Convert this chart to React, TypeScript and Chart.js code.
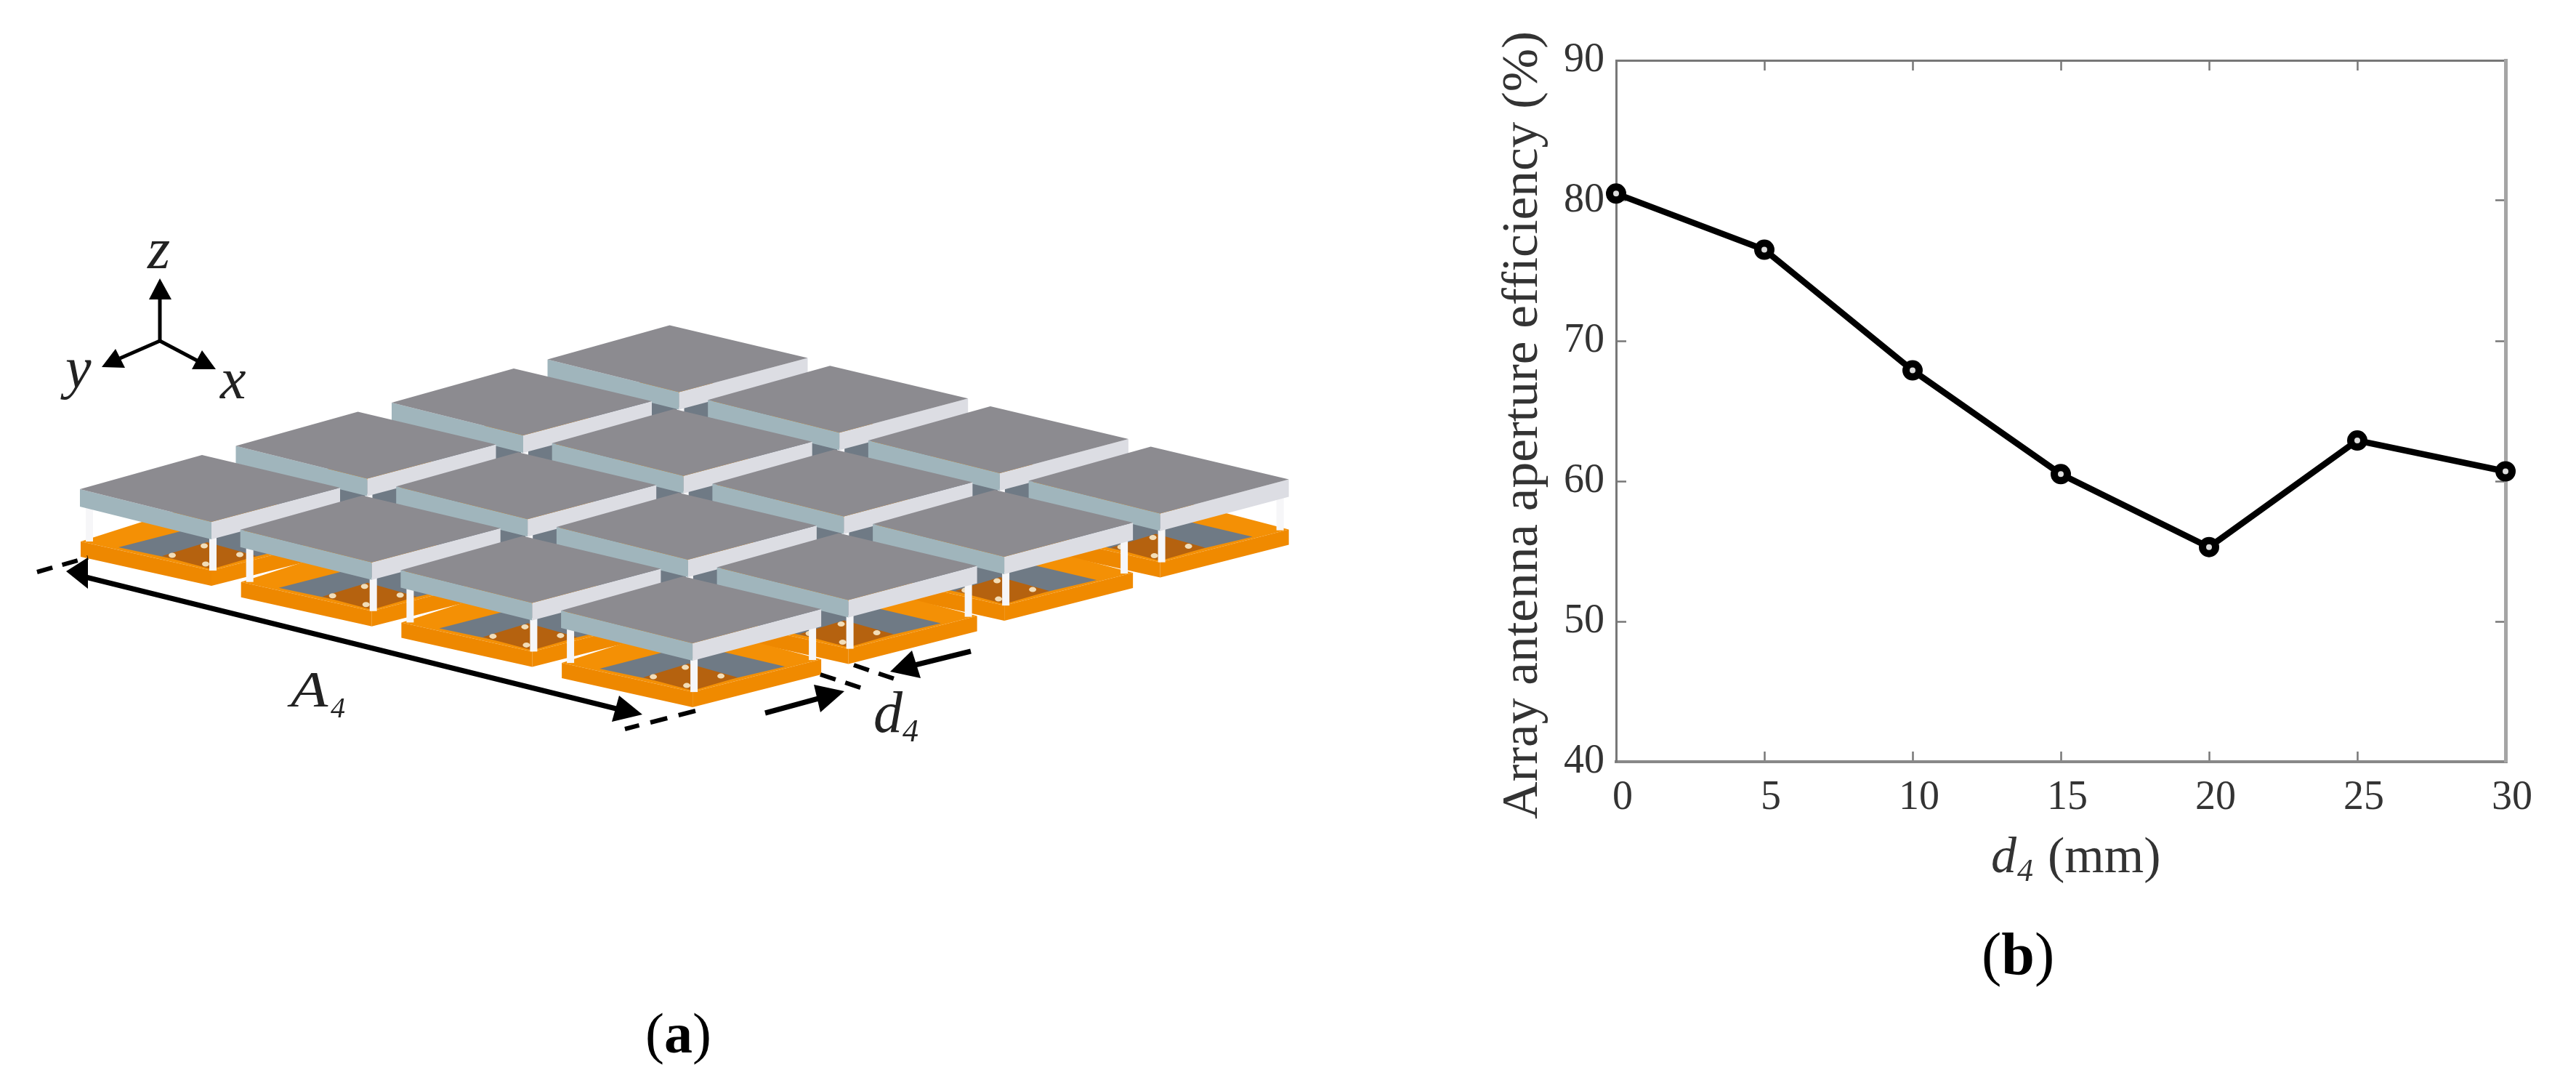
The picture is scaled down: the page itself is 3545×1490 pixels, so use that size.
import React, { useEffect, useRef } from "react";
import { Chart, registerables } from "chart.js";

Chart.register(...registerables);

const gapValues = [0, 5, 10, 15, 20, 25, 30];
const efficiencyValues = [80.5, 76.5, 67.9, 60.5, 55.3, 62.9, 60.7];
const yAxisTitle = "Array antenna aperture efficiency (%)";
const xAxisName = "d";
const xAxisSub = "4";
const xAxisUnit = "(mm)";
const panelLabels = ["a", "b"];

const SERIF = '"Liberation Serif", "Times New Roman", serif';
type Pt = [number, number];

function poly(ctx: CanvasRenderingContext2D, pts: Pt[], fill: string) {
  ctx.fillStyle = fill;
  ctx.beginPath();
  pts.forEach((p, k) => (k ? ctx.lineTo(p[0], p[1]) : ctx.moveTo(p[0], p[1])));
  ctx.closePath();
  ctx.fill();
}

function stroke(ctx: CanvasRenderingContext2D, a: Pt, b: Pt, w: number, dash: number[] = []) {
  ctx.save();
  ctx.strokeStyle = "#000";
  ctx.lineWidth = w;
  ctx.setLineDash(dash);
  ctx.beginPath();
  ctx.moveTo(a[0], a[1]);
  ctx.lineTo(b[0], b[1]);
  ctx.stroke();
  ctx.restore();
}

function drawUnit(ctx: CanvasRenderingContext2D, ox: number, oy: number) {
  const r = (pts: Pt[]): Pt[] => pts.map((p) => [ox + p[0], oy + p[1]] as Pt);
  // substrate
  const sT = 21;
  poly(ctx, r([[1, 72], [170, 18], [358, 67], [181, 112]]), "#F49005");
  poly(ctx, r([[1, 72], [181, 112], [181, 112 + sT], [1, 72 + sT]]), "#EE8800");
  poly(ctx, r([[181, 112], [358, 67], [358, 67 + sT], [181, 112 + sT]]), "#F08A00");
  // patch
  poly(ctx, r([[53, 80], [181, 47], [308, 77], [181, 107]]), "#6F7A85");
  poly(ctx, r([[113, 92], [175, 73], [243, 92], [181, 110]]), "#B5620F");
  ctx.fillStyle = "#F2DDB8";
  ([[127, 91], [220, 90], [171, 78], [173, 103]] as Pt[]).forEach((d) => {
    ctx.beginPath();
    ctx.ellipse(ox + d[0], oy + d[1], 5, 3.5, 0, 0, Math.PI * 2);
    ctx.fill();
  });
  // posts
  ctx.fillStyle = "#F6F6F8";
  ctx.fillRect(ox + 8, oy + 23, 10, 49);
  ctx.fillRect(ox + 178, oy + 66, 10, 46);
  ctx.fillRect(ox + 341, oy + 23, 10, 45);
  // tile
  const t = 24;
  poly(ctx, r([[0, 0], [181, 45], [181, 45 + t], [0, t]]), "#A0B5BC");
  poly(ctx, r([[181, 45], [358, -2], [358, -2 + t], [181, 45 + t]]), "#DCDDE3");
  poly(ctx, r([[0, 0], [168, -47], [358, -2], [181, 45]]), "#8C8B90");
}

const illustration = {
  id: "illustration",
  afterDraw(chart: any) {
    const ctx: CanvasRenderingContext2D = chart.ctx;
    ctx.save();
    for (let j = 3; j >= 0; j--) {
      for (let i = 0; i < 4; i++) {
        drawUnit(ctx, 110 + i * 220.7 + j * 214.5, 673 + i * 55.7 - j * 59.5);
      }
    }
    // coordinate triad
    stroke(ctx, [220, 469], [220, 405], 5);
    stroke(ctx, [220, 469], [165, 493], 5);
    stroke(ctx, [220, 469], [273, 497], 5);
    poly(ctx, [[220, 383], [205, 412], [236, 412]], "#000");
    poly(ctx, [[140, 505], [172, 506], [159, 480]], "#000");
    poly(ctx, [[264, 508], [297, 508], [278, 482]], "#000");
    // dimension arrows
    stroke(ctx, [110, 792], [860, 978], 7);
    poly(ctx, [[91, 786], [121, 767], [121, 810]], "#000");
    poly(ctx, [[884, 983], [852, 957], [842, 993]], "#000");
    stroke(ctx, [51, 787], [121, 767], 6, [22, 14]);
    stroke(ctx, [957, 978], [860, 1003], 6, [24, 16]);
    stroke(ctx, [1053, 981], [1130, 960], 7);
    poly(ctx, [[1162, 951], [1120, 942], [1129, 980]], "#000");
    stroke(ctx, [1336, 896], [1255, 916], 7);
    poly(ctx, [[1225, 924], [1255, 895], [1267, 933]], "#000");
    stroke(ctx, [1129, 928], [1190, 948], 6, [22, 14]);
    stroke(ctx, [1175, 915], [1234, 935], 6, [22, 14]);

    // illustration labels
    ctx.fillStyle = "#222";
    ctx.textBaseline = "alphabetic";
    ctx.textAlign = "left";
    ctx.font = `italic 80px ${SERIF}`;
    ctx.fillText("z", 203, 369);
    ctx.fillText("y", 90, 533);
    ctx.fillText("x", 303, 548);
    ctx.save();
    ctx.translate(400, 972);
    ctx.scale(1.2, 1);
    ctx.font = `italic 70px ${SERIF}`;
    ctx.fillText("A", 0, 0);
    ctx.restore();
    ctx.font = `italic 40px ${SERIF}`;
    ctx.fillText("4", 455, 987);
    ctx.font = `italic 80px ${SERIF}`;
    ctx.fillText("d", 1202, 1007);
    ctx.font = `italic 44px ${SERIF}`;
    ctx.fillText("4", 1242, 1020);

    // panel captions
    ctx.fillStyle = "#000";
    const caption = (x: number, y: number, size: number, letter: string) => {
      ctx.font = `${size}px ${SERIF}`;
      ctx.fillText("(", x, y);
      let cx = x + ctx.measureText("(").width;
      ctx.font = `bold ${size}px ${SERIF}`;
      ctx.fillText(letter, cx, y);
      cx += ctx.measureText(letter).width;
      ctx.font = `${size}px ${SERIF}`;
      ctx.fillText(")", cx, y);
    };
    caption(888, 1448, 78, panelLabels[0]);
    caption(2727, 1340, 82, panelLabels[1]);

    // axis titles
    ctx.fillStyle = "#333";
    ctx.font = `70px ${SERIF}`;
    ctx.fillText(xAxisUnit, 2818, 1200);
    ctx.font = `italic 70px ${SERIF}`;
    ctx.fillText(xAxisName, 2740, 1200);
    ctx.font = `italic 44px ${SERIF}`;
    ctx.fillText(xAxisSub, 2776, 1212);

    ctx.save();
    ctx.translate(2115, 1127);
    ctx.rotate(-Math.PI / 2);
    ctx.font = `70px ${SERIF}`;
    ctx.scale(1084 / ctx.measureText(yAxisTitle).width, 1);
    ctx.fillText(yAxisTitle, 0, 0);
    ctx.restore();
    ctx.restore();
  },
};

export default function App() {
  const ref = useRef<HTMLCanvasElement>(null);
  useEffect(() => {
    document.body.style.margin = "0";
    const tickGrid = {
      drawOnChartArea: false,
      drawTicks: true,
      tickLength: -14,
      tickColor: "#777",
      tickWidth: 2.5,
    };
    const tickFont = { family: SERIF, size: 56 };
    const chart = new Chart(ref.current!, {
      type: "line",
      data: {
        datasets: [
          {
            data: gapValues.map((x, i) => ({ x, y: efficiencyValues[i] })),
            borderColor: "#000",
            borderWidth: 8.5,
            tension: 0,
            pointRadius: 9,
            pointBorderWidth: 10,
            pointBorderColor: "#000",
            pointBackgroundColor: "#ddd",
            clip: false,
          },
        ],
      },
      options: {
        animation: false,
        responsive: false,
        devicePixelRatio: 1,
        layout: { padding: 0 },
        plugins: { legend: { display: false }, tooltip: { enabled: false }, title: { display: false } },
        scales: {
          x: {
            type: "linear",
            position: "bottom",
            min: 0,
            max: 30,
            afterFit: (s: any) => { s.height = 442; },
            border: { color: "#888", width: 4 },
            grid: tickGrid,
            ticks: { stepSize: 5, color: "#333", font: tickFont, padding: 31, labelOffset: 9, maxRotation: 0 },
          },
          x2: {
            type: "linear",
            position: "top",
            min: 0,
            max: 30,
            afterFit: (s: any) => { s.height = 83; },
            border: { color: "#777", width: 3 },
            grid: tickGrid,
            ticks: { stepSize: 5, display: false },
          },
          y: {
            type: "linear",
            position: "left",
            min: 40,
            max: 90,
            afterFit: (s: any) => { s.width = 2224; },
            border: { color: "#777", width: 3 },
            grid: tickGrid,
            ticks: { stepSize: 10, color: "#333", font: tickFont, padding: 30 },
          },
          y2: {
            type: "linear",
            position: "right",
            min: 40,
            max: 90,
            afterFit: (s: any) => { s.width = 97; },
            border: { color: "#a5a5a5", width: 5 },
            grid: tickGrid,
            ticks: { stepSize: 10, display: false },
          },
        },
      } as any,
      plugins: [illustration],
    });
    return () => chart.destroy();
  }, []);
  return (
    <canvas
      ref={ref}
      width={3545}
      height={1490}
      style={{ display: "block", width: 3545, height: 1490 }}
    />
  );
}
